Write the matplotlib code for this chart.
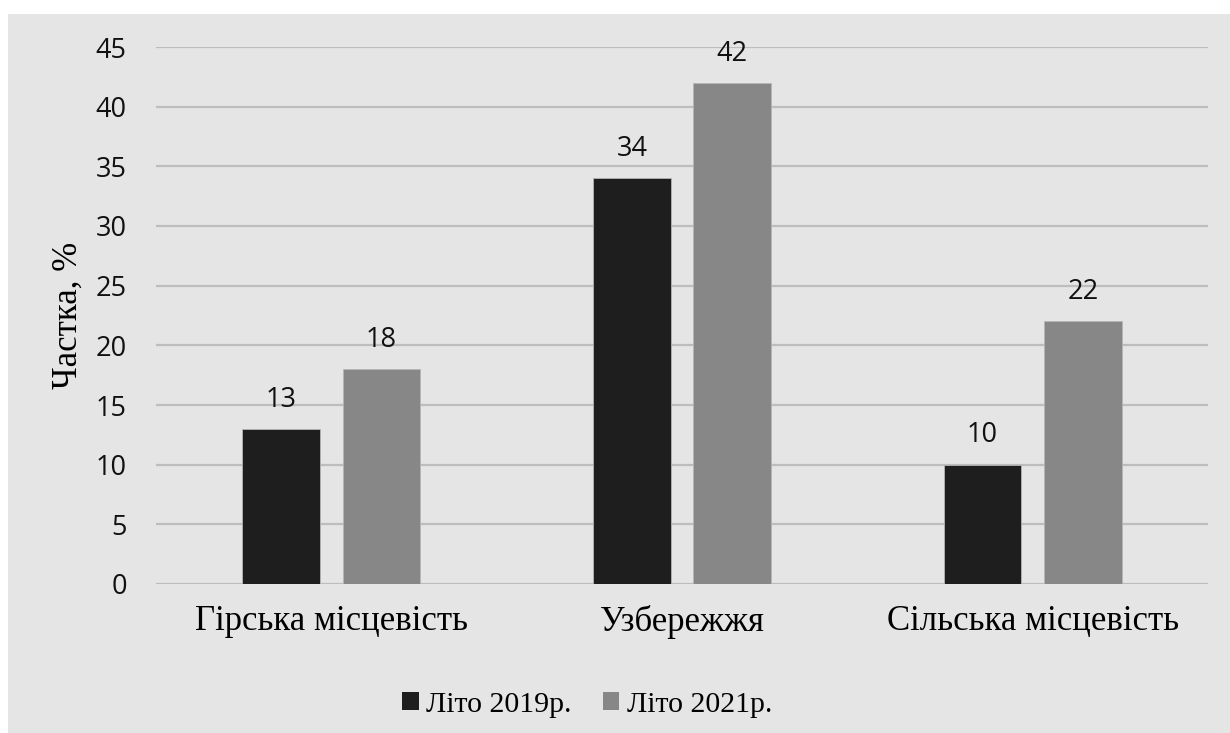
import matplotlib
matplotlib.use("Agg")
import matplotlib.pyplot as plt
from matplotlib.patches import Rectangle
import numpy as np

categories = ["Гірська місцевість", "Узбережжя", "Сільська місцевість"]
series_names = ["Літо 2019р.", "Літо 2021р."]
values_2019 = [13, 34, 10]
values_2021 = [18, 42, 22]
yticks = [0, 5, 10, 15, 20, 25, 30, 35, 40, 45]

colors = ["#1e1e1e", "#878787"]
bg = "#e5e5e5"
serif = ["Liberation Serif", "DejaVu Serif"]
sans = ["Open Sans", "DejaVu Sans"]

fig = plt.figure(figsize=(12.3, 7.33), dpi=100)
fig.patch.set_facecolor("white")
fig.patches.append(Rectangle((8 / 1230, 0), 1 - 8 / 1230, 1 - 14 / 733,
                             transform=fig.transFigure, facecolor=bg,
                             edgecolor="none", zorder=-10))

ax = fig.add_axes([156 / 1230, 1 - 584 / 733, (1208 - 156) / 1230, (584 - 47) / 733])
ax.patch.set_alpha(0)

x = np.arange(len(categories))
w = 0.222
off = 0.143
for vals, c, name, sgn in [(values_2019, colors[0], series_names[0], -1),
                           (values_2021, colors[1], series_names[1], 1)]:
    bars = ax.bar(x + sgn * off, vals, width=w, color=c, edgecolor="#b5b5b5",
                  linewidth=0.6, label=name, zorder=3)
    for b, v in zip(bars, vals):
        ax.annotate(str(v), (b.get_x() + b.get_width() / 2, v),
                    xytext=(0, 11), textcoords="offset points",
                    ha="center", va="bottom", fontsize=19.5,
                    family=sans, color="#111111")

ax.set_xlim(-0.5, 2.5)
ax.set_ylim(0, 45)
ax.set_yticks(yticks)
ax.yaxis.grid(True, color="#bdbdbd", linewidth=1.6, zorder=1)
ax.set_axisbelow(True)
for s in ax.spines.values():
    s.set_visible(False)
ax.tick_params(axis="both", length=0)
ax.tick_params(axis="y", pad=21)
ax.tick_params(axis="x", pad=15)
for lab in ax.get_yticklabels():
    lab.set_fontfamily(sans)
    lab.set_fontsize(19.5)
    lab.set_color("#111111")
ax.set_xticks(x)
ax.set_xticklabels(categories, fontfamily=serif, fontsize=25, color="#000000")
ax.set_ylabel("Частка, %", fontfamily=serif, fontsize=25, labelpad=8)

leg = fig.legend(loc="center", bbox_to_anchor=(0.4775, 1 - 705 / 733), ncol=2,
                 frameon=False, prop={"family": serif, "size": 21.5},
                 handlelength=0.55, handleheight=0.55, handletextpad=0.25,
                 columnspacing=1.05)
for h in leg.legend_handles:
    h.set_edgecolor("none")

fig.savefig("out.png", dpi=100, facecolor="white")
